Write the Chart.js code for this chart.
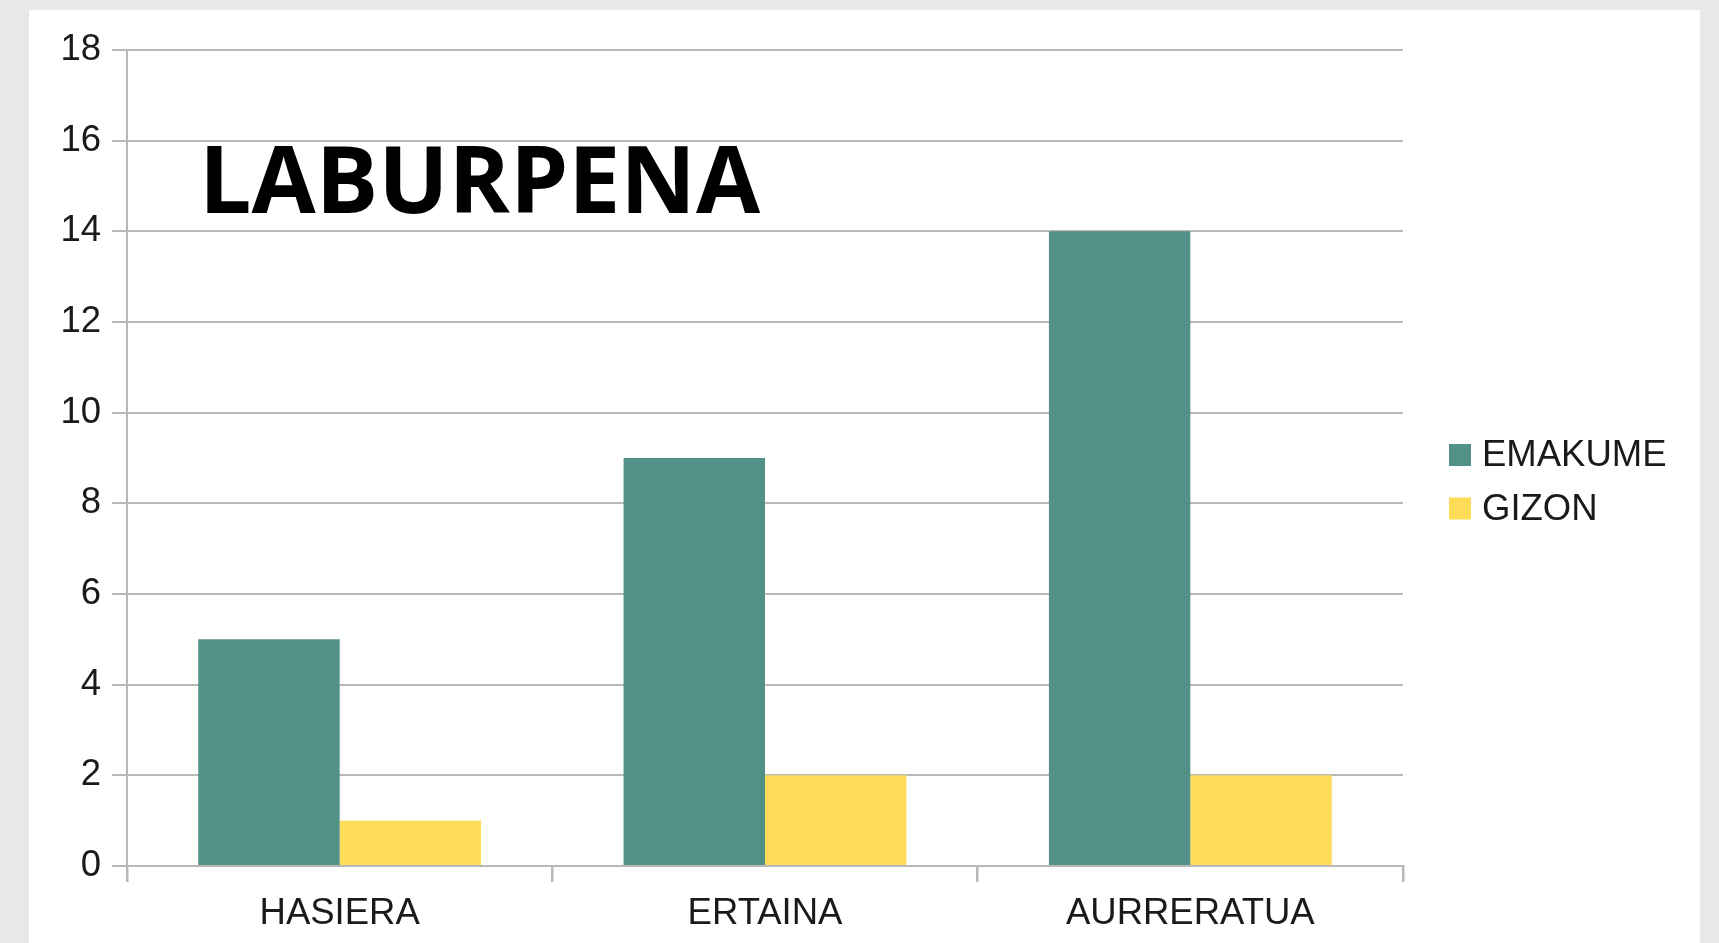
<!DOCTYPE html>
<html>
<head>
<meta charset="utf-8">
<script src="https://cdn.jsdelivr.net/npm/chart.js@4"></script>
<style>
  html, body { margin: 0; padding: 0; }
  body { width: 1719px; height: 943px; background: #e8e8e8; position: relative; overflow: hidden; }
  #card { position: absolute; left: 29px; top: 10px; width: 1671px; height: 933px; background: #ffffff; }
  #c { display: block; }
</style>
</head>
<body>
<div id="card"><canvas id="c" width="1671" height="933"></canvas></div>
<script>
const categories = ['HASIERA', 'ERTAINA', 'AURRERATUA'];
const seriesNames = ['EMAKUME', 'GIZON'];
const emakumeValues = [5, 9, 14];
const gizonValues = [1, 2, 2];
const yTicks = [0, 2, 4, 6, 8, 10, 12, 14, 16, 18];
const chartTitle = 'LABURPENA';

const TEAL = '#529187';
const YELLOW = '#ffdc58';
const GRID = '#b8b8b8';
const TEXT = '#1a1a1a';
const AXIS_FONT = { family: "'Liberation Sans', Arial, sans-serif", size: 36.5 };

const overlayPlugin = {
  id: 'overlay',
  afterDraw(chart) {
    const ctx = chart.ctx;
    const ca = chart.chartArea;
    ctx.save();
    // Title overlaid on the plot
    ctx.font = "bold 93px 'Open Sans', 'Noto Sans', sans-serif";
    ctx.fillStyle = '#000000';
    ctx.textBaseline = 'alphabetic';
    ctx.textAlign = 'left';
    ctx.fillText(chartTitle, ca.left + 72, ca.top + 163);
    // Legend to the right
    const lx = ca.right + 46;
    const rowGap = 53.5;
    const y0 = 445;
    ctx.font = "36.5px 'Liberation Sans', Arial, sans-serif";
    ctx.textBaseline = 'middle';
    chart.data.datasets.forEach((ds, i) => {
      const cy = y0 + i * rowGap;
      ctx.fillStyle = ds.backgroundColor;
      ctx.fillRect(lx, cy - 11, 22, 22);
      ctx.fillStyle = TEXT;
      ctx.fillText(ds.label, lx + 33, cy + 1);
    });
    ctx.restore();
  }
};

new Chart(document.getElementById('c'), {
  type: 'bar',
  data: {
    labels: categories,
    datasets: [
      { label: seriesNames[0], data: emakumeValues, backgroundColor: TEAL, borderWidth: 0 },
      { label: seriesNames[1], data: gizonValues, backgroundColor: YELLOW, borderWidth: 0 }
    ]
  },
  options: {
    responsive: false,
    animation: false,
    devicePixelRatio: 1,
    layout: { padding: { left: 0, top: 40, right: 297, bottom: 0 } },
    datasets: { bar: { categoryPercentage: 0.665, barPercentage: 1.0 } },
    plugins: {
      legend: { display: false },
      title: { display: false },
      tooltip: { enabled: false }
    },
    scales: {
      x: {
        grid: {
          offset: true,
          drawOnChartArea: true,
          drawTicks: true,
          tickLength: 16,
          color: (c) => (c.index === categories.length ? GRID : 'rgba(0,0,0,0)'),
          tickColor: GRID,
          lineWidth: 2.5
        },
        border: { display: true, color: GRID, width: 2 },
        ticks: { color: TEXT, font: AXIS_FONT, padding: 10, maxRotation: 0 },
        afterFit(scale) { scale.height = 77; }
      },
      y: {
        min: 0,
        max: 18,
        afterBuildTicks(scale) { scale.ticks = yTicks.map(v => ({ value: v })); },
        grid: { color: GRID, lineWidth: 2, drawTicks: true, tickLength: 15, tickColor: GRID },
        border: { display: true, color: GRID, width: 2 },
        ticks: { color: TEXT, font: AXIS_FONT, padding: 11 },
        afterFit(scale) { scale.width = 98; }
      }
    }
  },
  plugins: [overlayPlugin]
});
</script>
</body>
</html>
